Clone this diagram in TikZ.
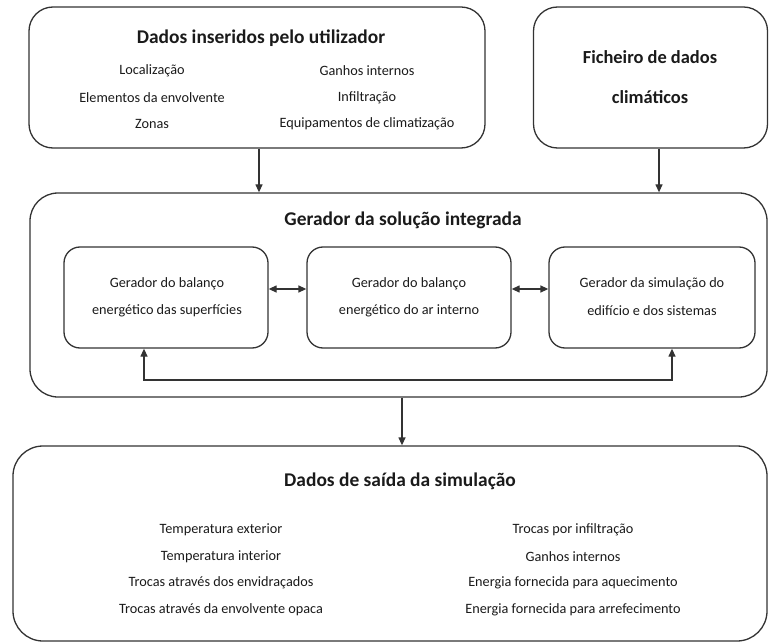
\documentclass[tikz,border=0pt]{standalone}
\usepackage{fontspec}
\setmainfont{Carlito}
\usetikzlibrary{arrows.meta}
\definecolor{ln}{HTML}{333333}
\definecolor{tx}{HTML}{1A1A1A}
\tikzset{
  box/.style={draw=ln, line width=1.3bp, rounded corners=#1, inner sep=0pt},
  box/.default=18bp,
  ttl/.style={font=\fontsize{19.5}{22}\selectfont\bfseries, text=tx, inner sep=0pt},
  ttlb/.style={font=\fontsize{18.5}{21}\selectfont\bfseries, text=tx, inner sep=0pt},
  itm/.style={font=\fontsize{14.3}{16}\selectfont, text=tx, inner sep=0pt},
  arr/.style={draw=ln, line width=1.3bp, -{Triangle[length=8bp,width=7bp]}},
  arrb/.style={draw=ln, line width=1.3bp, {Triangle[length=8bp,width=7bp]}-{Triangle[length=8bp,width=7bp]}}
}
\begin{document}
\begin{tikzpicture}[x=1bp,y=-1bp]
\useasboundingbox (0,0) rectangle (769,642);
% boxes
\node[box=24bp, minimum width=456bp, minimum height=141bp] (ui) at (257,77.5) {};
\node[box=24bp, minimum width=234bp, minimum height=141bp] (clim) at (650.5,77.5) {};
\node[box=28bp, minimum width=737bp, minimum height=204bp] (big) at (398.5,295) {};
\node[box=16bp, minimum width=204bp, minimum height=101bp] (g1) at (166,297.5) {};
\node[box=16bp, minimum width=204bp, minimum height=101bp] (g2) at (409,297.5) {};
\node[box=16bp, minimum width=206bp, minimum height=101bp] (g3) at (652,297.5) {};
\node[box=30bp, minimum width=754bp, minimum height=195bp] (out) at (390,543.5) {};
% texts
\node[ttl] (uit) at (261,38) {Dados inseridos pelo utilizador};
\node[itm] (u1) at (152,71) {Localização};
\node[itm] (u2) at (152,98) {Elementos da envolvente};
\node[itm] (u3) at (152,124) {Zonas};
\node[itm] (u4) at (367,71) {Ganhos internos};
\node[itm] (u5) at (367,98) {Infiltração};
\node[itm] (u6) at (367,124) {Equipamentos de climatização};
\node[ttlb] (c1) at (650,57) {Ficheiro de dados};
\node[ttlb] (c2) at (650,97) {climáticos};
\node[ttl] (bigt) at (403,220) {Gerador da solução integrada};
\node[itm] (g1a) at (167,284) {Gerador do balanço};
\node[itm] (g1b) at (167,311) {energético das superfícies};
\node[itm] (g2a) at (409,284) {Gerador do balanço};
\node[itm] (g2b) at (409,311) {energético do ar interno};
\node[itm] (g3a) at (652,284) {Gerador da simulação do};
\node[itm] (g3b) at (652,311) {edifício e dos sistemas};
\node[ttl] (outt) at (400,481) {Dados de saída da simulação};
\node[itm] (o1) at (221,530) {Temperatura exterior};
\node[itm] (o2) at (221,557) {Temperatura interior};
\node[itm] (o3) at (221,583) {Trocas através dos envidraçados};
\node[itm] (o4) at (221,610) {Trocas através da envolvente opaca};
\node[itm] (o5) at (573,530) {Trocas por infiltração};
\node[itm] (o6) at (573,557) {Ganhos internos};
\node[itm] (o7) at (573,583) {Energia fornecida para aquecimento};
\node[itm] (o8) at (573,610) {Energia fornecida para arrefecimento};
% connectors
\draw[arr] ([xshift=2bp]ui.south) -- ([xshift=2bp]ui.south |- big.north);
\draw[arr] ([xshift=8.5bp]clim.south) -- ([xshift=8.5bp]clim.south |- big.north);
\draw[arr] ([xshift=3.5bp]big.south) -- ([xshift=3.5bp]big.south |- out.north);
\draw[arrb] ([yshift=8.5bp]g1.east) -- ([yshift=8.5bp]g2.west);
\draw[arrb] ([yshift=8.5bp]g2.east) -- ([yshift=8.5bp]g3.west);
\coordinate (lpL) at (144,380);
\coordinate (lpR) at (672,380);
\draw[arrb] (lpL |- g1.south) -- (lpL) -- (lpR) -- (lpR |- g3.south);
\end{tikzpicture}
\end{document}
